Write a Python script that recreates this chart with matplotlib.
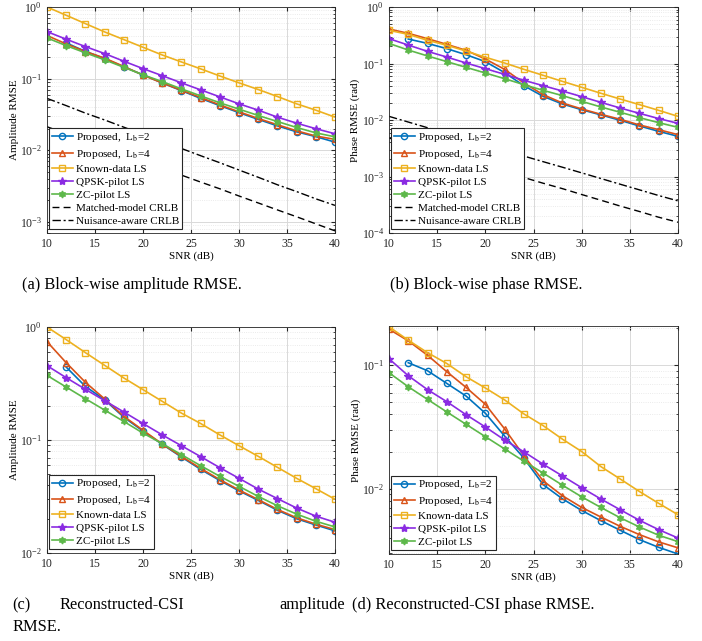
import numpy as np
import matplotlib
matplotlib.use('Agg')
import matplotlib.pyplot as plt
from matplotlib.ticker import LogLocator, NullFormatter

plt.rcParams['font.family'] = ['Liberation Serif', 'DejaVu Serif']
plt.rcParams['mathtext.fontset'] = 'stix'

snr = [10, 12, 14, 16, 18, 20, 22, 24, 26, 28, 30, 32, 34, 36, 38, 40]
snr_lb2 = snr[1:]

# (a) block-wise amplitude RMSE
a_lb2 = [0.315, 0.240, 0.191, 0.146, 0.113, 0.087, 0.068, 0.053, 0.042, 0.0335, 0.027, 0.0219, 0.0181, 0.0155, 0.0130]
a_lb4 = [0.40, 0.305, 0.239, 0.193, 0.148, 0.112, 0.087, 0.069, 0.0545, 0.043, 0.0344, 0.0278, 0.0227, 0.0187, 0.0158, 0.0142]
a_known = [1.0, 0.766, 0.586, 0.449, 0.351, 0.274, 0.214, 0.171, 0.137, 0.109, 0.0873, 0.0705, 0.0563, 0.0445, 0.0363, 0.029]
a_qpsk = [0.453, 0.355, 0.280, 0.224, 0.175, 0.138, 0.110, 0.0873, 0.0697, 0.0557, 0.0445, 0.0363, 0.029, 0.0239, 0.020, 0.017]
a_zc = [0.37, 0.289, 0.229, 0.183, 0.144, 0.113, 0.091, 0.072, 0.0575, 0.046, 0.0375, 0.0306, 0.0252, 0.0208, 0.0175, 0.0154]
a_crlb_m = [0.0213, 0.0170, 0.0136, 0.0109, 0.0087, 0.0070, 0.0056, 0.0045, 0.0036, 0.0029, 0.0023, 0.00184, 0.00147, 0.00118, 0.00094, 0.00075]
a_crlb_n = [0.053, 0.042, 0.033, 0.0265, 0.021, 0.0167, 0.0133, 0.0106, 0.0084, 0.0067, 0.0053, 0.0042, 0.0033, 0.00265, 0.0021, 0.0017]

# (b) block-wise phase RMSE
b_lb2 = [0.271, 0.227, 0.183, 0.143, 0.108, 0.0689, 0.0405, 0.0262, 0.0192, 0.0152, 0.0123, 0.00987, 0.00783, 0.0063, 0.00514]
b_lb4 = [0.408, 0.342, 0.275, 0.218, 0.171, 0.12, 0.0788, 0.0452, 0.0281, 0.020, 0.0157, 0.0126, 0.0103, 0.00816, 0.00675, 0.0055]
b_known = [0.386, 0.328, 0.257, 0.21, 0.166, 0.129, 0.102, 0.0788, 0.0618, 0.0483, 0.0379, 0.0297, 0.0235, 0.0187, 0.0148, 0.0116]
b_qpsk = [0.275, 0.212, 0.164, 0.130, 0.102, 0.081, 0.0643, 0.0504, 0.0405, 0.0326, 0.0259, 0.0205, 0.0163, 0.0131, 0.0106, 0.00873]
b_zc = [0.227, 0.173, 0.136, 0.108, 0.0855, 0.0679, 0.0539, 0.0422, 0.0335, 0.027, 0.0214, 0.017, 0.0137, 0.011, 0.00897, 0.00741]
b_crlb_m = [0.0048, 0.0038, 0.0030, 0.0024, 0.0019, 0.00152, 0.00121, 0.00096, 0.00076, 0.00061, 0.00048, 0.00038, 0.0003, 0.00024, 0.00019, 0.000155]
b_crlb_n = [0.0116, 0.0092, 0.0073, 0.0058, 0.0046, 0.00366, 0.0029, 0.0023, 0.00183, 0.00146, 0.00116, 0.00092, 0.00073, 0.00058, 0.00046, 0.00037]

# (c) reconstructed-CSI amplitude RMSE
c_lb2 = [0.442, 0.298, 0.227, 0.159, 0.12, 0.0917, 0.0707, 0.055, 0.0438, 0.0355, 0.0292, 0.0239, 0.0201, 0.0177, 0.0157]
c_lb4 = [0.742, 0.483, 0.324, 0.231, 0.162, 0.122, 0.0922, 0.0717, 0.0561, 0.0446, 0.0361, 0.0297, 0.0243, 0.0205, 0.018, 0.0161]
c_known = [1.0, 0.773, 0.593, 0.458, 0.354, 0.279, 0.22, 0.173, 0.14, 0.111, 0.089, 0.0717, 0.0573, 0.0458, 0.0371, 0.0299]
c_qpsk = [0.455, 0.356, 0.281, 0.223, 0.177, 0.140, 0.111, 0.089, 0.0713, 0.0569, 0.0458, 0.0368, 0.0303, 0.025, 0.0212, 0.0187]
c_zc = [0.373, 0.294, 0.232, 0.184, 0.146, 0.115, 0.0929, 0.0742, 0.0593, 0.0477, 0.0389, 0.0317, 0.0262, 0.0221, 0.0191, 0.017]

# (d) reconstructed-CSI phase RMSE
d_lb2 = [0.1045, 0.09, 0.0711, 0.0562, 0.0408, 0.0267, 0.0177, 0.0108, 0.0083, 0.00668, 0.00552, 0.00462, 0.00388, 0.00336, 0.00297]
d_lb4 = [0.195, 0.157, 0.12, 0.0884, 0.066, 0.0482, 0.0305, 0.0185, 0.0116, 0.00879, 0.00707, 0.00591, 0.00497, 0.00426, 0.00372, 0.00333]
d_known = [0.204, 0.159, 0.126, 0.103, 0.0805, 0.0653, 0.0523, 0.0403, 0.0324, 0.0252, 0.020, 0.0151, 0.012, 0.0095, 0.00762, 0.00617]
d_qpsk = [0.1125, 0.082, 0.0633, 0.0506, 0.0397, 0.0316, 0.0248, 0.0199, 0.0158, 0.0127, 0.0102, 0.00826, 0.00677, 0.00556, 0.00467, 0.004]
d_zc = [0.0867, 0.0668, 0.0528, 0.0418, 0.0332, 0.0264, 0.021, 0.0167, 0.0134, 0.0107, 0.00861, 0.00706, 0.00583, 0.00491, 0.00421, 0.00374]

c_blue = '#0072BD'
c_orange = '#D95319'
c_yellow = '#EDB120'
c_purple = '#8A2BE2'
c_green = '#5DB84A'

fs = 8.5


def draw(ax, lb2, lb4, known, qpsk, zc, ylim, ylabel, crlb_m=None, crlb_n=None):
    ax.plot(snr_lb2, lb2, color=c_blue, marker='o', mfc='none', ms=4.5, lw=1.2,
            label='Proposed,  L$_\\mathrm{b}$=2')
    ax.plot(snr, lb4, color=c_orange, marker='^', mfc='none', ms=4.5, lw=1.2,
            label='Proposed,  L$_\\mathrm{b}$=4')
    ax.plot(snr, known, color=c_yellow, marker='s', mfc='none', ms=4, lw=1.2,
            label='Known-data LS')
    ax.plot(snr, qpsk, color=c_purple, marker='*', ms=6, lw=1.2,
            label='QPSK-pilot LS')
    ax.plot(snr, zc, color=c_green, marker=(6, 1, 0), ms=5, lw=1.2,
            label='ZC-pilot LS')
    if crlb_m is not None:
        ax.plot(snr, crlb_m, color='black', ls=(0, (5, 3)), lw=1.0,
                label='Matched-model CRLB')
        ax.plot(snr, crlb_n, color='black', ls=(0, (6, 2, 1.5, 2)), lw=1.0,
                label='Nuisance-aware CRLB')
    ax.set_yscale('log')
    ax.set_xlim(10, 40)
    ax.set_ylim(*ylim)
    ax.set_xticks([10, 15, 20, 25, 30, 35, 40])
    ax.yaxis.set_major_locator(LogLocator(base=10, numticks=10))
    ax.yaxis.set_minor_locator(LogLocator(base=10, subs=np.arange(2, 10), numticks=20))
    ax.yaxis.set_minor_formatter(NullFormatter())
    ax.grid(True, which='major', color='#d9d9d9', lw=0.7)
    ax.grid(True, which='minor', color='#e4e4e4', lw=0.6, ls=':')
    ax.set_axisbelow(True)
    ax.tick_params(which='both', direction='in', top=True, right=True, labelsize=fs,
                   colors='#262626', length=3)
    ax.tick_params(which='minor', length=1.8)
    for s in ax.spines.values():
        s.set_color('#262626')
        s.set_linewidth(0.6)
    ax.set_xlabel('SNR (dB)', fontsize=8, labelpad=1)
    ax.set_ylabel(ylabel, fontsize=8, labelpad=1)
    leg = ax.legend(loc='lower left', bbox_to_anchor=(0.007, 0.018), borderaxespad=0,
                    fontsize=8, frameon=True, fancybox=False, framealpha=1,
                    handlelength=1.9, handletextpad=0.3, labelspacing=0.3,
                    borderpad=0.25)
    leg.get_frame().set_edgecolor('#262626')
    leg.get_frame().set_linewidth(0.8)


fig = plt.figure(figsize=(7.02, 6.41), dpi=100)
W, H = 702, 641

def make_axes(x0, x1, y0, y1):
    return fig.add_axes([x0 / W, (H - y1) / H, (x1 - x0) / W, (y1 - y0) / H])

ax_a = make_axes(47, 335, 7, 233)
ax_b = make_axes(389, 678, 7, 233)
ax_c = make_axes(47, 335, 327, 553)
ax_d = make_axes(389, 678, 326, 554)

draw(ax_a, a_lb2, a_lb4, a_known, a_qpsk, a_zc, (7e-4, 1), 'Amplitude RMSE', a_crlb_m, a_crlb_n)
draw(ax_b, b_lb2, b_lb4, b_known, b_qpsk, b_zc, (1e-4, 1), 'Phase RMSE (rad)', b_crlb_m, b_crlb_n)
draw(ax_c, c_lb2, c_lb4, c_known, c_qpsk, c_zc, (1e-2, 1), 'Amplitude RMSE')
draw(ax_d, d_lb2, d_lb4, d_known, d_qpsk, d_zc, (0.00297, 0.207), 'Phase RMSE (rad)')

cap = 11.8
fig.text(22 / W, 1 - 285 / H, '(a) Block-wise amplitude RMSE.', fontsize=cap, va='center')
fig.text(390 / W, 1 - 285 / H, '(b) Block-wise phase RMSE.', fontsize=cap, va='center')
fig.text(12 / W, 1 - 605 / H, '(c)', fontsize=cap, va='center')
fig.text(60 / W, 1 - 605 / H, 'Reconstructed-CSI', fontsize=cap, va='center')
fig.text(345 / W, 1 - 605 / H, 'amplitude', fontsize=cap, va='center', ha='right')
fig.text(12 / W, 1 - 627 / H, 'RMSE.', fontsize=cap, va='center')
fig.text(352 / W, 1 - 605 / H, '(d) Reconstructed-CSI phase RMSE.', fontsize=cap, va='center')

fig.savefig('out.png', dpi=100)
